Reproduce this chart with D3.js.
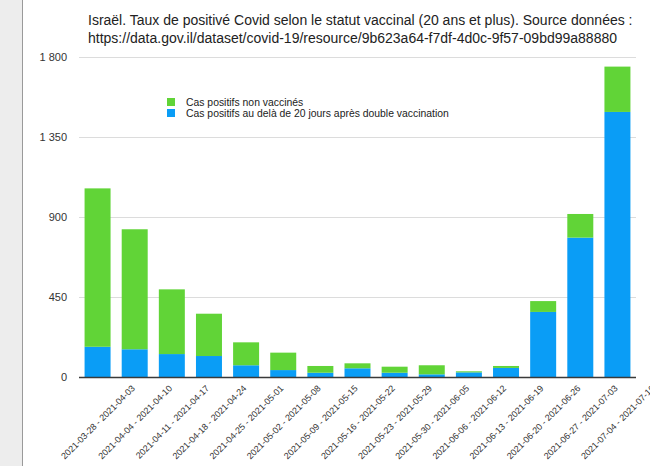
<!DOCTYPE html>
<html><head><meta charset="utf-8">
<script src="https://cdn.jsdelivr.net/npm/d3@7"></script>
<style>
html,body{margin:0;padding:0;background:#fff;}
svg{display:block;font-family:"Liberation Sans",Arial,Helvetica,sans-serif;}
</style></head>
<body>
<svg id="chart" width="650" height="466"></svg>
<script>
const categories = ["2021-03-28 - 2021-04-03","2021-04-04 - 2021-04-10","2021-04-11 - 2021-04-17","2021-04-18 - 2021-04-24","2021-04-25 - 2021-05-01","2021-05-02 - 2021-05-08","2021-05-09 - 2021-05-15","2021-05-16 - 2021-05-22","2021-05-23 - 2021-05-29","2021-05-30 - 2021-06-05","2021-06-06 - 2021-06-12","2021-06-13 - 2021-06-19","2021-06-20 - 2021-06-26","2021-06-27 - 2021-07-03","2021-07-04 - 2021-07-10"];
const vaccinated = [170,156,129,118,66,39,24,49,24,15,26,51,366,784,1491];
const unvaccinated = [891,675,364,238,129,98,38,28,34,51,6,11,61,133,255];
const yTicks = [0,450,900,1350,1800];
const yTickLabels = ["0","450","900","1 350","1 800"];
const seriesNames = ["Cas positifs non vaccinés","Cas positifs au delà de 20 jours après double vaccination"];
const colors = {unvac:"#61d437", vac:"#0a9df6"};

const svg = d3.select("#chart");
// left grey strip
svg.append("rect").attr("x",0).attr("y",0).attr("width",22).attr("height",466).attr("fill","#ededed");
svg.append("line").attr("x1",22.5).attr("x2",22.5).attr("y1",0).attr("y2",466).attr("stroke","#9a9a9a").attr("stroke-width",1);

const x = d3.scaleBand().domain(categories).range([79,636]).paddingInner(0.3).paddingOuter(0.15);
const y = d3.scaleLinear().domain([0,1800]).range([377,57]);

// gridlines
svg.append("g").selectAll("line").data(yTicks.filter(d=>d>0)).join("line")
  .attr("x1",79).attr("x2",636).attr("y1",d=>y(d)+0.5).attr("y2",d=>y(d)+0.5)
  .attr("stroke","#dcdcdc").attr("stroke-width",1);

// y labels
const yAxis = d3.axisLeft(y).tickValues(yTicks).tickSize(0).tickPadding(0)
  .tickFormat((d,i)=>yTickLabels[i]);
const yg = svg.append("g").attr("transform","translate(67,0)").call(yAxis);
yg.select(".domain").remove();
yg.selectAll("text").attr("font-size",11).attr("fill","#333").attr("font-family","Liberation Sans, Arial, sans-serif");

// stacked bars
const data = categories.map((c,i)=>({cat:c, vac:vaccinated[i], unvac:unvaccinated[i]}));
const stack = d3.stack().keys(["vac","unvac"])(data);
svg.append("g").selectAll("g").data(stack).join("g")
  .attr("fill",d=>colors[d.key])
  .selectAll("rect").data(d=>d).join("rect")
  .attr("x",d=>x(d.data.cat)).attr("width",x.bandwidth())
  .attr("y",d=>y(d[1])).attr("height",d=>y(d[0])-y(d[1]));

// x axis line
svg.append("line").attr("x1",79).attr("x2",636).attr("y1",y(0)+0.5).attr("y2",y(0)+0.5)
  .attr("stroke","#3a3a3a").attr("stroke-width",1.5);

// x labels
const xAxis = d3.axisBottom(x).tickSize(0).tickPadding(0);
const xg = svg.append("g").call(xAxis);
xg.select(".domain").remove();
xg.selectAll(".tick").attr("transform",d=>`translate(${x(d)+x.bandwidth()/2+38},389)`);
xg.selectAll("text").attr("font-size",9).attr("fill","#333").attr("text-anchor","end")
  .attr("dy",0).attr("y",0).attr("transform","rotate(-45)")
  .attr("font-family","Liberation Sans, Arial, sans-serif");

// legend
const legend = svg.append("g").attr("transform","translate(167,98)");
const lg = [{name:seriesNames[0],c:colors.unvac},{name:seriesNames[1],c:colors.vac}];
lg.forEach((d,i)=>{
  legend.append("rect").attr("x",0).attr("y",i*11).attr("width",8).attr("height",8).attr("fill",d.c);
  legend.append("text").attr("x",19).attr("y",i*11+8).attr("font-size",10.4).attr("fill","#222").text(d.name);
});

// title
const title = svg.append("text").attr("x",88).attr("font-size",14).attr("fill","#222");
title.append("tspan").attr("x",88).attr("y",25).text("Israël. Taux de positivé Covid selon le statut vaccinal (20 ans et plus). Source données :");
title.append("tspan").attr("x",88).attr("y",43).text("https://data.gov.il/dataset/covid-19/resource/9b623a64-f7df-4d0c-9f57-09bd99a88880");
</script>
</body></html>
